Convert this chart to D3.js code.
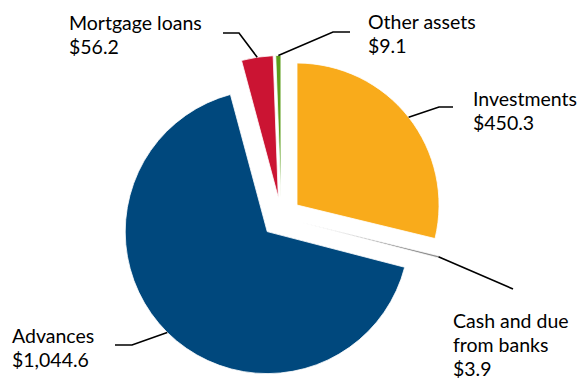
<!DOCTYPE html>
<html>
<head>
<meta charset="utf-8">
<script src="https://cdn.jsdelivr.net/npm/d3@7"></script>
<style>
  html, body { margin: 0; padding: 0; background: #fff; }
  svg { display: block; }
  text { font-family: Lato, "Open Sans", sans-serif; fill: #000; }
</style>
</head>
<body>
<div id="chart"></div>
<script>
// Asset composition (in $ billions), clockwise from 12 o'clock
const categories = ["Investments", "Cash and due from banks", "Advances", "Mortgage loans", "Other assets"];
const values = [450.3, 3.9, 1044.6, 56.2, 9.1];
const valueLabels = ["$450.3", "$3.9", "$1,044.6", "$56.2", "$9.1"];
const labelLines = [["Investments"], ["Cash and due", "from banks"], ["Advances"], ["Mortgage loans"], ["Other assets"]];
const colors = ["#F9AB1B", "#8C8C8C", "#00487D", "#CB1433", "#5C9E1B"];

// Label placement: text origin and leader elbow/end points
const labelLayout = [
  { x: 473, y: 106, elbow: [439, 107], end: [453, 107] },
  { x: 453, y: 328, elbow: null, end: [513, 289] },
  { x: 12, y: 343, elbow: [132, 345], end: [115, 345] },
  { x: 69, y: 30, elbow: [239, 33], end: [223, 33] },
  { x: 368, y: 29, elbow: [333, 32], end: [350, 32] }
];

const width = 582, height = 381;
const cx = 281.3, cy = 217.4, radius = 142, explode = 20;
const fontSize = 19.5, lineGap = 24.2;

const svg = d3.select("#chart").append("svg")
  .attr("width", width).attr("height", height);

const pie = d3.pie().sort(null).startAngle(0).endAngle(2 * Math.PI);
const arcs = pie(values);
const arc = d3.arc().innerRadius(0).outerRadius(radius);

const dir = d => {
  const a = (d.startAngle + d.endAngle) / 2;
  return [Math.sin(a), -Math.cos(a)];
};

const g = svg.append("g").attr("transform", `translate(${cx},${cy})`);

g.selectAll("path.slice")
  .data(arcs)
  .join("path")
  .attr("class", "slice")
  .attr("d", arc)
  .attr("transform", d => {
    const [ux, uy] = dir(d);
    return `translate(${ux * explode},${uy * explode})`;
  })
  .attr("fill", (d, i) => colors[i])
  .attr("stroke", "#fff")
  .attr("stroke-width", 0.8);

// Leader lines from slice edge to label
const lines = svg.append("g");
arcs.forEach((d, i) => {
  const [ux, uy] = dir(d);
  const p0 = [cx + ux * (explode + radius), cy + uy * (explode + radius)];
  const L = labelLayout[i];
  const pts = [p0];
  if (L.elbow) pts.push(L.elbow);
  pts.push(L.end);
  lines.append("path")
    .attr("d", d3.line()(pts))
    .attr("fill", "none")
    .attr("stroke", "#000")
    .attr("stroke-width", 1.6);
});

// Labels
const labels = svg.append("g");
arcs.forEach((d, i) => {
  const L = labelLayout[i];
  const t = labels.append("text")
    .attr("x", L.x).attr("y", L.y)
    .attr("font-size", fontSize);
  const rows = labelLines[i].concat([valueLabels[i]]);
  rows.forEach((r, k) => {
    t.append("tspan").attr("x", L.x).attr("y", L.y + k * lineGap).text(r);
  });
});
</script>
</body>
</html>
